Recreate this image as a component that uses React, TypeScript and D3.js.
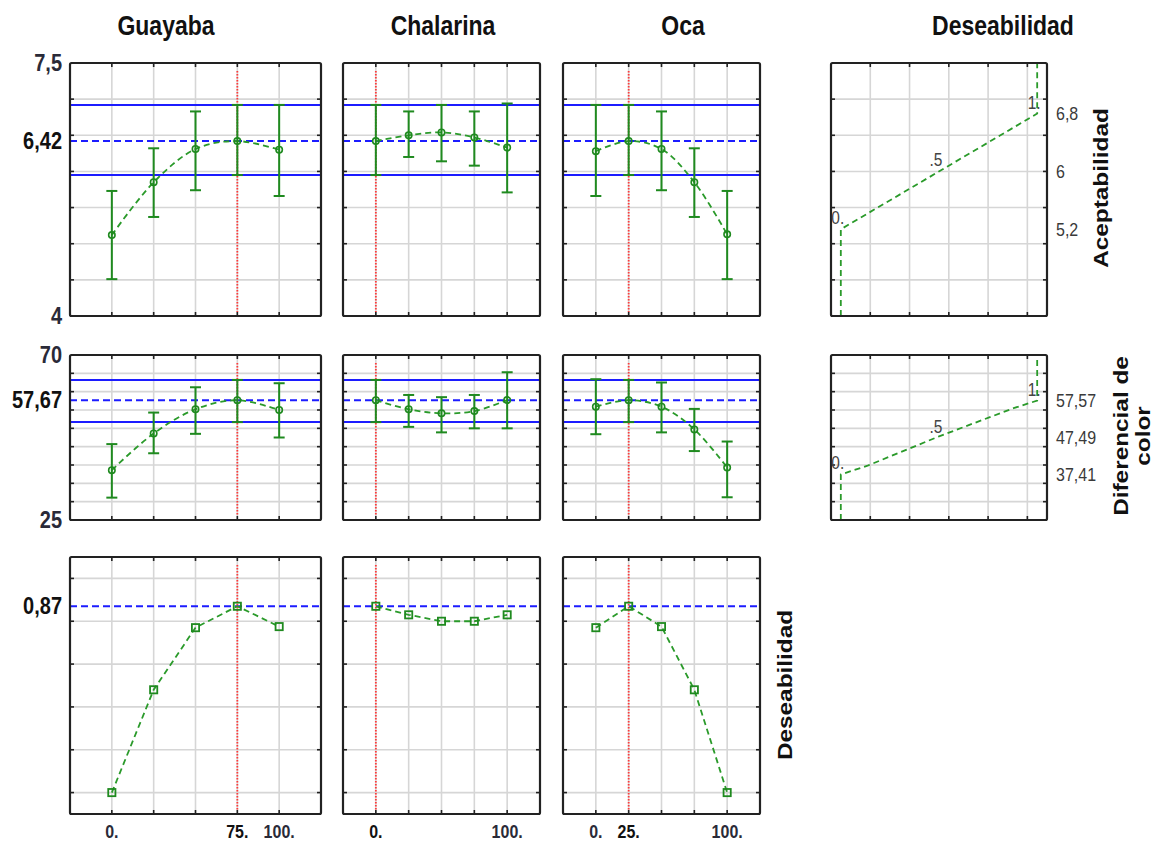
import React from "react";
import * as d3 from "d3";

// ---------- data ----------
const factors = ["Guayaba", "Chalarina", "Oca"];
const factorLevels = [0, 25, 50, 75, 100];
const optimumLevel = [75, 0, 25];
const xTickGuayaba = [0, 75, 100];
const xTickChalarina = [0, 100];
const xTickOca = [0, 25, 100];

// Aceptabilidad (mean, lower, upper)
const accGuayabaMean = [5.12, 5.85, 6.31, 6.42, 6.3];
const accGuayabaLow = [4.51, 5.37, 5.74, 5.95, 5.66];
const accGuayabaHigh = [5.73, 6.32, 6.83, 6.92, 6.92];
const accChalarinaMean = [6.42, 6.5, 6.54, 6.47, 6.33];
const accChalarinaLow = [5.95, 6.2, 6.14, 6.08, 5.71];
const accChalarinaHigh = [6.92, 6.83, 6.92, 6.83, 6.94];
const accOcaMean = [6.28, 6.42, 6.31, 5.85, 5.13];
const accOcaLow = [5.66, 5.95, 5.74, 5.37, 4.51];
const accOcaHigh = [6.92, 6.92, 6.83, 6.32, 5.73];
const accOptimum = 6.42;
const accCiLow = 5.95;
const accCiHigh = 6.92;
const accDomain = [4, 7.5];
const accGrid = [4.5, 5, 5.5, 6, 6.5, 7];
const accYLabels = [4, 6.42, 7.5];

// Diferencial de color
const colGuayabaMean = [38.6, 48.6, 55.2, 57.67, 55.0];
const colGuayabaLow = [31.1, 43.2, 48.5, 51.7, 47.5];
const colGuayabaHigh = [45.7, 54.3, 61.2, 63.2, 62.3];
const colChalarinaMean = [57.67, 55.2, 54.1, 54.7, 57.7];
const colChalarinaLow = [51.7, 50.4, 48.9, 50.0, 50.0];
const colChalarinaHigh = [63.2, 59.1, 58.5, 59.1, 65.3];
const colOcaMean = [55.9, 57.67, 55.9, 49.7, 39.3];
const colOcaLow = [48.4, 51.7, 48.9, 43.8, 31.2];
const colOcaHigh = [63.4, 63.2, 62.5, 55.3, 46.4];
const colOptimum = 57.67;
const colCiLow = 51.7;
const colCiHigh = 63.2;
const colDomain = [25, 70];
const colGrid = [30, 35, 40, 45, 50, 55, 60, 65];
const colYLabels = [25, 57.67, 70];

// Deseabilidad
const desGuayaba = [0.0, 0.48, 0.77, 0.87, 0.775];
const desChalarina = [0.87, 0.83, 0.8, 0.8, 0.83];
const desOca = [0.77, 0.87, 0.775, 0.48, 0.0];
const desOptimum = 0.87;
const desDomain = [-0.1, 1.1];
const desGrid = [0, 0.2, 0.4, 0.6, 0.8, 1.0];
const desYLabels = [0.87];

// Desirability functions (d, response)
const desAxisDomain = [-0.05, 1.05];
const desAxisGrid = [0.15, 0.35, 0.55, 0.75, 0.95];
const accDesD = [0, 0, 1, 1];
const accDesV = [4, 5.2, 6.8, 7.5];
const accDesTicks = [5.2, 6.0, 6.8];
const accDesTickLabels = ["5,2", "6", "6,8"];
const colDesD = [0, 0, 0.14, 0.5, 0.88, 1, 1];
const colDesV = [25, 37.41, 39.9, 47.8, 55.5, 57.57, 70];
const colDesTicks = [37.41, 47.49, 57.57];
const colDesTickLabels = ["37,41", "47,49", "57,57"];
const desPointLabels = ["0.", ".5", "1."];
const desPointD = [0, 0.5, 1];

// ---------- layout ----------
const FONT = "'Liberation Sans', Arial, Helvetica, sans-serif";
const COLS = [
  { x0: 70, x1: 321 },
  { x0: 343, x1: 540 },
  { x0: 563, x1: 760 },
];
const DCOL = { x0: 831, x1: 1047 };
const ROWS = [
  { y0: 63, y1: 316 },
  { y0: 355, y1: 520 },
  { y0: 557, y1: 814 },
];
const TITLE_X = [166, 443, 683, 1003];
const GREEN = "#1f8a1f";
const GREEN_D = "#2a9a2a";
const BLUE = "#1c1cff";
const RED = "#ff3a3a";
const GRID = "#d6d6d6";
const INK = "#222";

const fmt = (v: number) => String(v).replace(".", ",");

function SText({ x, y, sy = 1.15, size, weight = "normal", anchor = "middle", baseline = "auto", fill = INK, children }: any) {
  return (
    <g transform={`translate(${x},${y}) scale(1,${sy})`}>
      <text x={0} y={0} fontFamily={FONT} fontSize={size} fontWeight={weight} textAnchor={anchor} dominantBaseline={baseline} fill={fill}>
        {children}
      </text>
    </g>
  );
}

function VText({ x, y, s = 1.16, size, children }: any) {
  return (
    <g transform={`translate(${x},${y}) rotate(-90) scale(${s},1)`}>
      <text x={0} y={0} fontFamily={FONT} fontSize={size} fontWeight="bold" textAnchor="middle" fill="#111">
        {children}
      </text>
    </g>
  );
}

const responses = [
  {
    domain: accDomain, grid: accGrid, optimum: accOptimum, ci: [accCiLow, accCiHigh],
    mean: [accGuayabaMean, accChalarinaMean, accOcaMean],
    low: [accGuayabaLow, accChalarinaLow, accOcaLow],
    high: [accGuayabaHigh, accChalarinaHigh, accOcaHigh],
    labels: accYLabels, marker: "circle", smooth: true,
  },
  {
    domain: colDomain, grid: colGrid, optimum: colOptimum, ci: [colCiLow, colCiHigh],
    mean: [colGuayabaMean, colChalarinaMean, colOcaMean],
    low: [colGuayabaLow, colChalarinaLow, colOcaLow],
    high: [colGuayabaHigh, colChalarinaHigh, colOcaHigh],
    labels: colYLabels, marker: "circle", smooth: true,
  },
  {
    domain: desDomain, grid: desGrid, optimum: desOptimum, ci: null,
    mean: [desGuayaba, desChalarina, desOca],
    low: null, high: null,
    labels: desYLabels, marker: "square", smooth: false,
  },
];

const xTicks = [xTickGuayaba, xTickChalarina, xTickOca];

function Frame({ x0, x1, y0, y1, xs, ys, xGrid, yGrid }: any) {
  const t = 4;
  return (
    <g>
      {xGrid.map((g: number, i: number) => (
        <g key={"xt" + i}>
          <line x1={xs(g)} x2={xs(g)} y1={y0} y2={y0 + t} stroke={INK} strokeWidth={1.6} />
          <line x1={xs(g)} x2={xs(g)} y1={y1} y2={y1 - t} stroke={INK} strokeWidth={1.6} />
        </g>
      ))}
      {yGrid.map((g: number, i: number) => (
        <g key={"yt" + i}>
          <line x1={x0} x2={x0 + t} y1={ys(g)} y2={ys(g)} stroke={INK} strokeWidth={1.6} />
          <line x1={x1} x2={x1 - t} y1={ys(g)} y2={ys(g)} stroke={INK} strokeWidth={1.6} />
        </g>
      ))}
      <rect x={x0} y={y0} width={x1 - x0} height={y1 - y0} fill="none" stroke={INK} strokeWidth={2.2} rx={1.5} />
    </g>
  );
}

function Grid({ x0, x1, y0, y1, xs, ys, xGrid, yGrid }: any) {
  return (
    <g>
      <rect x={x0} y={y0} width={x1 - x0} height={y1 - y0} fill="#fff" />
      {xGrid.map((g: number, i: number) => (
        <line key={"gx" + i} x1={xs(g)} x2={xs(g)} y1={y0} y2={y1} stroke={GRID} strokeWidth={1.6} />
      ))}
      {yGrid.map((g: number, i: number) => (
        <line key={"gy" + i} x1={x0} x2={x1} y1={ys(g)} y2={ys(g)} stroke={GRID} strokeWidth={1.6} />
      ))}
    </g>
  );
}

function FactorPanel({ r, c }: any) {
  const resp = responses[r];
  const { x0, x1 } = COLS[c];
  const { y0, y1 } = ROWS[r];
  const xs = d3.scaleLinear().domain([-25, 125]).range([x0, x1]);
  const ys = d3.scaleLinear().domain(resp.domain).range([y1, y0]);
  const mean = resp.mean[c];
  const pts: [number, number][] = factorLevels.map((l, i) => [xs(l), ys(mean[i])]);
  const line = d3.line().curve(resp.smooth ? d3.curveCatmullRom.alpha(0.5) : d3.curveLinear);
  const cap = 5.5;
  return (
    <g>
      <Grid x0={x0} x1={x1} y0={y0} y1={y1} xs={xs} ys={ys} xGrid={factorLevels} yGrid={resp.grid} />
      {resp.ci &&
        resp.ci.map((v: number, i: number) => (
          <line key={"ci" + i} x1={x0} x2={x1} y1={ys(v)} y2={ys(v)} stroke={BLUE} strokeWidth={2} />
        ))}
      <line x1={x0} x2={x1} y1={ys(resp.optimum)} y2={ys(resp.optimum)} stroke={BLUE} strokeWidth={2} strokeDasharray="7,4" />
      <line x1={xs(optimumLevel[c])} x2={xs(optimumLevel[c])} y1={y0 + 8} y2={y1 - 4} stroke={RED} strokeWidth={1.8} strokeDasharray="1.5,1.5" />
      <path d={line(pts) || ""} fill="none" stroke={GREEN_D} strokeWidth={1.8} strokeDasharray="6,4" />
      {resp.low &&
        factorLevels.map((l, i) => {
          const x = xs(l);
          const lo = ys(resp.low[c][i]);
          const hi = ys(resp.high[c][i]);
          return (
            <g key={"eb" + i} stroke={GREEN} strokeWidth={2}>
              <line x1={x} x2={x} y1={lo} y2={hi} />
              <line x1={x - cap} x2={x + cap} y1={lo} y2={lo} />
              <line x1={x - cap} x2={x + cap} y1={hi} y2={hi} />
            </g>
          );
        })}
      {pts.map(([x, y], i) =>
        resp.marker === "circle" ? (
          <circle key={"m" + i} cx={x} cy={y} r={3.2} fill="none" stroke={GREEN} strokeWidth={1.6} />
        ) : (
          <rect key={"m" + i} x={x - 3.6} y={y - 3.6} width={7.2} height={7.2} fill="none" stroke={GREEN} strokeWidth={1.8} />
        )
      )}
      <Frame x0={x0} x1={x1} y0={y0} y1={y1} xs={xs} ys={ys} xGrid={factorLevels} yGrid={resp.grid} />
      {c === 0 &&
        resp.labels.map((v: number, i: number) => (
          <SText key={"yl" + i} x={62} y={ys(v)} size={20} weight={v === resp.optimum ? "bold" : "600"} anchor="end" baseline="central" fill={v === resp.optimum ? "#111" : "#2a2a38"}>
            {fmt(v)}
          </SText>
        ))}
      {r === 2 &&
        xTicks[c].map((v: number, i: number) => (
          <SText key={"xl" + i} x={xs(v)} y={838} size={16} weight="bold" fill={v === optimumLevel[c] ? "#111" : "#2a2a38"}>
            {`${v}.`}
          </SText>
        ))}
    </g>
  );
}

function DesPanel({ r }: any) {
  const resp = responses[r];
  const { x0, x1 } = DCOL;
  const { y0, y1 } = ROWS[r];
  const xs = d3.scaleLinear().domain(desAxisDomain).range([x0, x1]);
  const ys = d3.scaleLinear().domain(resp.domain).range([y1, y0]);
  const dd = r === 0 ? accDesD : colDesD;
  const vv = r === 0 ? accDesV : colDesV;
  const ticks = r === 0 ? accDesTicks : colDesTicks;
  const tickLabels = r === 0 ? accDesTickLabels : colDesTickLabels;
  const pts: [number, number][] = dd.map((d, i) => [xs(d), ys(vv[i])]);
  const line = d3.line();
  return (
    <g>
      <Grid x0={x0} x1={x1} y0={y0} y1={y1} xs={xs} ys={ys} xGrid={desAxisGrid} yGrid={resp.grid} />
      <path d={line(pts) || ""} fill="none" stroke={GREEN_D} strokeWidth={1.8} strokeDasharray="6,4" />
      <Frame x0={x0} x1={x1} y0={y0} y1={y1} xs={xs} ys={ys} xGrid={desAxisGrid} yGrid={resp.grid} />
      {desPointLabels.map((t, i) => (
        <SText key={"dl" + i} x={xs(desPointD[i]) - 3} y={ys(ticks[i]) - 5} size={15.5} fill="#444">
          {t}
        </SText>
      ))}
      {ticks.map((v, i) => (
        <SText key={"rt" + i} x={1056} y={ys(v)} size={16} anchor="start" baseline="central" fill="#3a3a3a">
          {tickLabels[i]}
        </SText>
      ))}
    </g>
  );
}

export default function App() {
  return (
    <svg width={1172} height={841} style={{ position: "absolute", left: 0, top: 0, background: "#fff" }}>
      <rect x={0} y={0} width={1172} height={841} fill="#fff" />
      {factors.map((f, i) => (
        <SText key={"t" + i} x={TITLE_X[i]} y={35} size={23} weight="bold" sy={1.19} fill="#111">
          {f}
        </SText>
      ))}
      <SText x={TITLE_X[3]} y={35} size={23} weight="bold" sy={1.19} fill="#111">
        Deseabilidad
      </SText>
      {[0, 1, 2].map((r) => [0, 1, 2].map((c) => <FactorPanel key={`p${r}${c}`} r={r} c={c} />))}
      <DesPanel r={0} />
      <DesPanel r={1} />
      <VText x={1108} y={188} size={21}>Aceptabilidad</VText>
      <VText x={1128} y={436} size={21}>Diferencial de</VText>
      <VText x={1150} y={436} size={21}>color</VText>
      <VText x={792} y={685} size={21}>Deseabilidad</VText>
    </svg>
  );
}
